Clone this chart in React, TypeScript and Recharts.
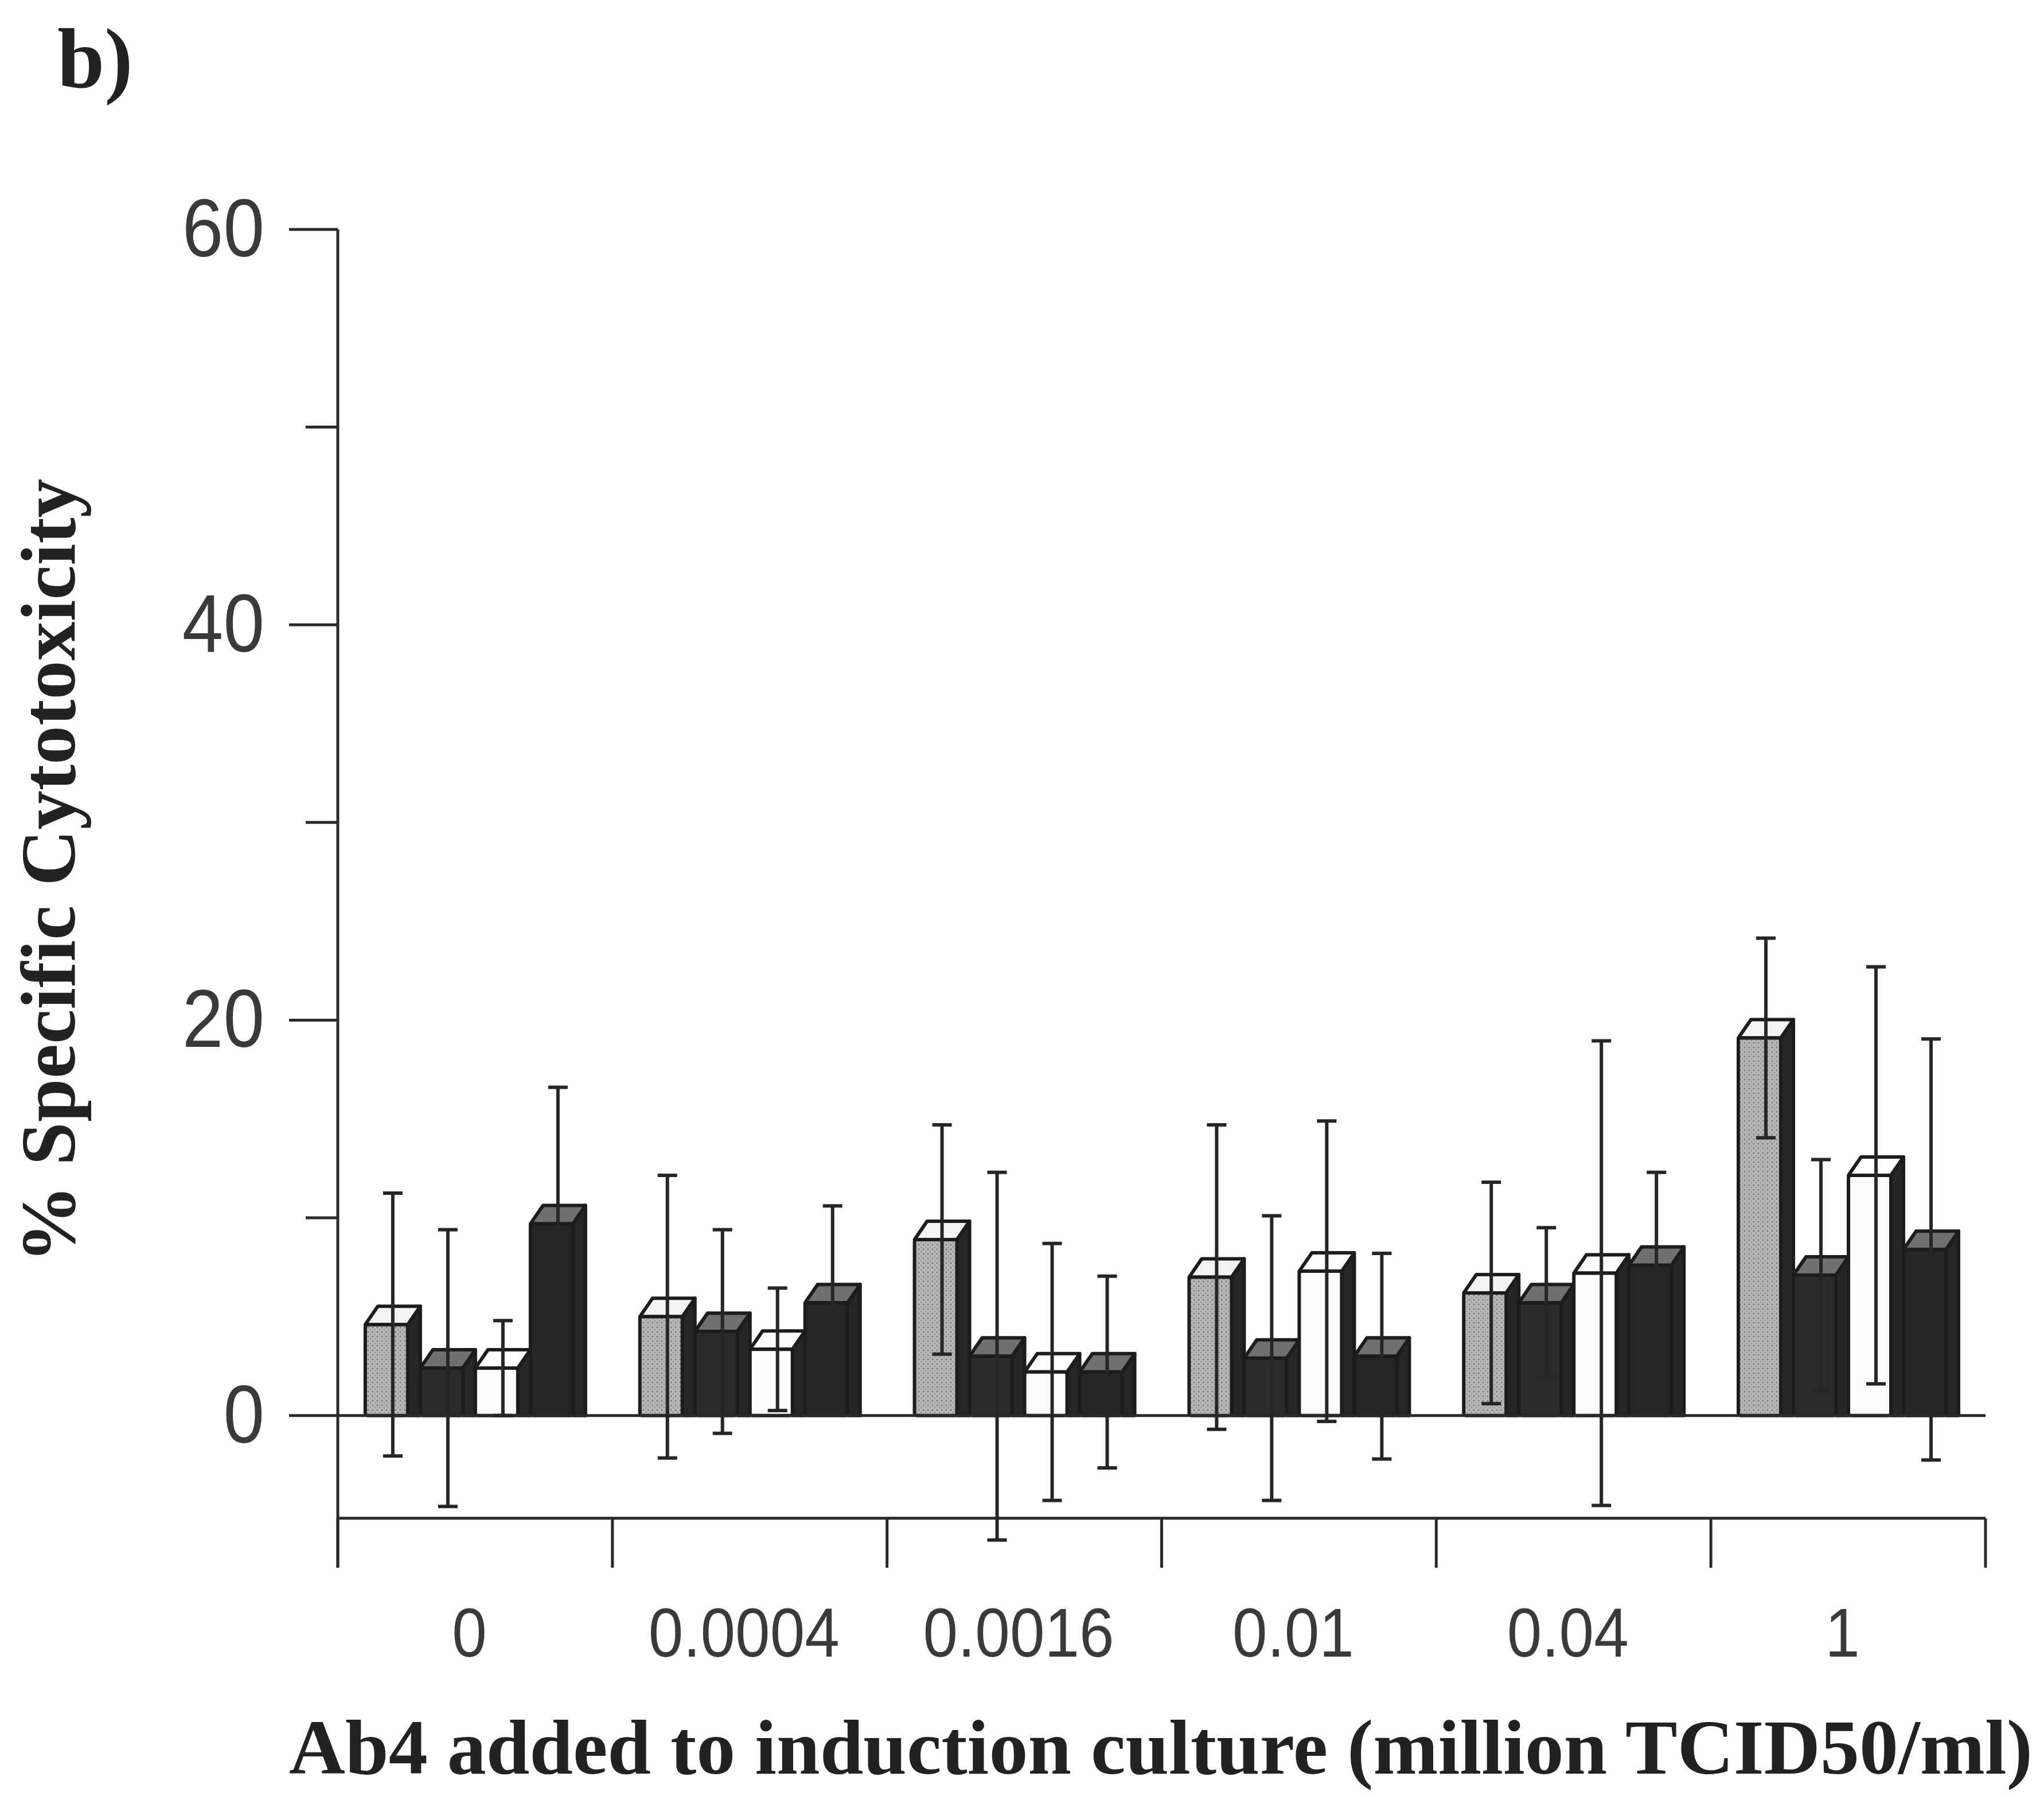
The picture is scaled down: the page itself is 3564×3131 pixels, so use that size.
import React from "react";
import {
  ComposedChart,
  Bar,
  ErrorBar,
  XAxis,
  YAxis,
  ReferenceLine,
} from "recharts";

// Ab4 dose per group (million TCID50/ml)
const doses = ["0", "0.0004", "0.0016", "0.01", "0.04", "1"];

// % specific cytotoxicity for the four effector conditions, mean and +/- error
const grayVals = [4.6, 5.0, 8.9, 7.0, 6.2, 19.1];
const grayErr = [6.65, 7.15, 5.8, 7.7, 5.6, 5.05];
const darkVals = [2.4, 4.25, 3.0, 2.9, 5.7, 7.1];
const darkErr = [7.0, 5.15, 9.3, 7.2, 3.8, 5.85];
const whiteVals = [2.4, 3.35, 2.2, 7.3, 7.2, 12.15];
const whiteErr = [2.4, 3.1, 6.5, 7.6, 11.75, 10.55];
const blackVals = [9.7, 5.7, 2.2, 3.0, 7.6, 8.4];
const blackErr = [6.9, 4.9, 4.85, 5.2, 4.7, 10.65];

const yTicks = [0, 10, 20, 30, 40, 50, 60];

const data = doses.map((dose, i) => ({
  dose,
  gray: grayVals[i],
  grayErr: grayErr[i],
  dark: darkVals[i],
  darkErr: darkErr[i],
  white: whiteVals[i],
  whiteErr: whiteErr[i],
  black: blackVals[i],
  blackErr: blackErr[i],
}));

// layout
const W = 3564;
const H = 3131;
const PLOT_LEFT = 589;
const PLOT_RIGHT = 3462;
const PLOT_TOP = 400;
const PLOT_BOTTOM = 2733;
const Y_MAX = 60;
const Y_MIN = -7.7;
const FLOOR = -5.2;
const AXIS_W = 200;
const AXIS_H = 200;
const BAND = (PLOT_RIGHT - PLOT_LEFT) / doses.length;
const TICK_DROP =
  ((FLOOR - Y_MIN) * (PLOT_BOTTOM - PLOT_TOP)) / (Y_MAX - Y_MIN);

const INK = "#2a2a2a";
const SANS = "'Liberation Sans', Arial, Helvetica, sans-serif";
const SERIF = "'Liberation Serif', 'Times New Roman', serif";

// depth of the pseudo-3D columns
const DX = 22;
const DY = 32;

const seriesList = [
  { key: "gray", err: "grayErr", face: "url(#stipple)", cap: "#f3f3f3" },
  { key: "dark", err: "darkErr", face: "#2b2b2b", cap: "#707070" },
  { key: "white", err: "whiteErr", face: "#fbfbfb", cap: "#ffffff" },
  { key: "black", err: "blackErr", face: "#252525", cap: "#707070" },
];

function Column3D(props: any) {
  const { x, y, width, height, face, cap } = props;
  if (!height || height <= 0) return null;
  const fw = width - DX;
  const bottom = y + height;
  const side = `${x + fw},${y} ${x + fw + DX},${y - DY} ${x + fw + DX},${bottom} ${x + fw},${bottom}`;
  const top = `${x},${y} ${x + DX},${y - DY} ${x + fw + DX},${y - DY} ${x + fw},${y}`;
  return (
    <g strokeLinejoin="round">
      <polygon points={side} fill="#262626" stroke="#1c1c1c" strokeWidth={6} />
      <polygon points={top} fill={cap} stroke="#1c1c1c" strokeWidth={6} />
      <rect
        x={x}
        y={y}
        width={fw}
        height={height}
        rx={4}
        fill={face}
        stroke="#1c1c1c"
        strokeWidth={6}
      />
    </g>
  );
}

function YTick({ x, y, payload }: any) {
  const major = payload.value % 20 === 0;
  return (
    <g>
      <line
        x1={x - (major ? 85 : 56)}
        x2={x}
        y1={y}
        y2={y}
        stroke={INK}
        strokeWidth={5}
      />
      {major && (
        <text
          transform={`translate(${x - 128},${y + 47}) scale(0.9,1)`}
          textAnchor="end"
          fontFamily={SANS}
          fontSize={143}
          fill="#3a3a3a"
        >
          {payload.value}
        </text>
      )}
    </g>
  );
}

function XTick({ x, y, payload, index }: any) {
  const half = BAND / 2;
  return (
    <g>
      <line
        x1={x - half}
        x2={x - half}
        y1={y - TICK_DROP}
        y2={y}
        stroke={INK}
        strokeWidth={5}
      />
      {index === doses.length - 1 && (
        <line
          x1={x + half}
          x2={x + half}
          y1={y - TICK_DROP}
          y2={y}
          stroke={INK}
          strokeWidth={5}
        />
      )}
      <text
        transform={`translate(${x - 10},${y + 155}) scale(0.9,1)`}
        textAnchor="middle"
        fontFamily={SANS}
        fontSize={121}
        fill="#3a3a3a"
      >
        {payload.value}
      </text>
    </g>
  );
}

export default function App() {
  return (
    <div
      style={{
        position: "absolute",
        left: 0,
        top: 0,
        width: W,
        height: H,
        background: "#fff",
      }}
    >
      <ComposedChart
        width={W}
        height={H}
        data={data}
        barCategoryGap="10%"
        barGap={0}
        margin={{
          top: PLOT_TOP,
          left: PLOT_LEFT - AXIS_W,
          right: W - PLOT_RIGHT,
          bottom: H - PLOT_BOTTOM - AXIS_H,
        }}
      >
        <defs>
          <pattern
            id="stipple"
            width="8"
            height="8"
            patternUnits="userSpaceOnUse"
          >
            <rect width="8" height="8" fill="#b8b8b8" />
            <circle cx="2" cy="2" r="1.6" fill="#7c7c7c" />
            <circle cx="6" cy="6" r="1.4" fill="#959595" />
          </pattern>
        </defs>
        <XAxis
          dataKey="dose"
          axisLine={false}
          tickLine={false}
          tickSize={0}
          tickMargin={0}
          height={AXIS_H}
          interval={0}
          tick={(p: any) => <XTick {...p} />}
        />
        <YAxis
          type="number"
          domain={[Y_MIN, Y_MAX]}
          allowDataOverflow
          ticks={yTicks}
          interval={0}
          width={AXIS_W}
          tickSize={0}
          tickMargin={0}
          tickLine={false}
          axisLine={{ stroke: INK, strokeWidth: 5 }}
          tick={(p: any) => <YTick {...p} />}
        />
        <ReferenceLine y={0} stroke={INK} strokeWidth={5} />
        <ReferenceLine y={FLOOR} stroke={INK} strokeWidth={5} />
        {seriesList.map((s) => (
          <Bar
            key={s.key}
            dataKey={s.key}
            isAnimationActive={false}
            shape={(p: any) => <Column3D {...p} face={s.face} cap={s.cap} />}
          >
            <ErrorBar
              dataKey={s.err}
              width={17}
              strokeWidth={6}
              stroke="#262626"
              isAnimationActive={false}
            />
          </Bar>
        ))}
      </ComposedChart>
      <svg
        width={W}
        height={H}
        style={{ position: "absolute", left: 0, top: 0, pointerEvents: "none" }}
      >
        <text
          x={100}
          y={152}
          fontFamily={SERIF}
          fontWeight="bold"
          fontSize={148}
          fill="#222"
        >
          b)
        </text>
        <text
          transform="translate(130,1518) rotate(-90)"
          textAnchor="middle"
          fontFamily={SERIF}
          fontWeight="bold"
          fontSize={136}
          fill="#222"
        >
          % Specific Cytotoxicity
        </text>
        <text
          x={2024}
          y={3092}
          textAnchor="middle"
          fontFamily={SERIF}
          fontWeight="bold"
          fontSize={136}
          fill="#222"
        >
          Ab4 added to induction culture (million TCID50/ml)
        </text>
      </svg>
    </div>
  );
}
